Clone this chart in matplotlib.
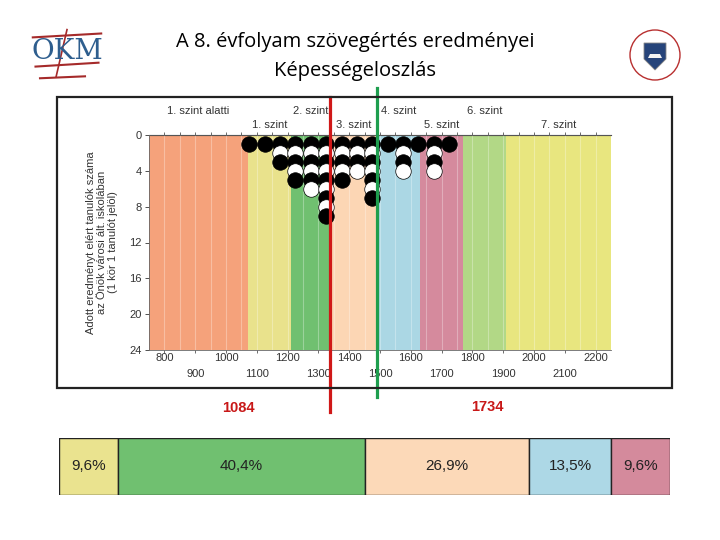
import numpy as np
import matplotlib
matplotlib.use("Agg")
import matplotlib.pyplot as plt
from matplotlib.patches import Rectangle, Circle, Polygon
from matplotlib.lines import Line2D

# Képességszintek (sávok) határai és színei
band_edges = [750, 1071, 1211, 1340, 1488, 1630, 1771, 1910, 2250]
band_colors = ["#F5A27B", "#E9E28C", "#70C070", "#FCD6B4",
               "#ABD7E4", "#D58A9D", "#B2D886", "#E8E67F"]
band_names = ["1. szint alatti", "1. szint", "2. szint", "3. szint",
              "4. szint", "5. szint", "6. szint", "7. szint"]

# Tanulók pontszám-oszlopai (50 pontos sávok közepe) és darabszám
dot_x = [1075, 1125, 1175, 1225, 1275, 1325, 1375, 1425, 1475,
         1525, 1575, 1625, 1675, 1725]
dot_n = [1, 1, 3, 5, 6, 9, 5, 4, 7, 1, 4, 1, 4, 1]

# függőleges jelölővonalak
red_x = 1338
green_x = 1490
min_score = "1084"
max_score = "1734"

# alsó sáv: megoszlás
share_vals = [9.6, 40.4, 26.9, 13.5, 9.6]
share_labels = ["9,6%", "40,4%", "26,9%", "13,5%", "9,6%"]
share_colors = ["#EAE38F", "#70C070", "#FCD9B8", "#ADD8E6", "#D48A9C"]

W, H = 720, 540
plt.rcParams["font.family"] = ["Liberation Sans", "DejaVu Sans"]
fig = plt.figure(figsize=(W / 100, H / 100), dpi=100)


def fx(px):
    return px / W


def fy(py):
    return 1 - py / H


# cím
fig.text(fx(355), fy(42), "A 8. évfolyam szövegértés eredményei",
         ha="center", va="center", fontsize=14.5, family="Open Sans")
fig.text(fx(355), fy(71), "Képességeloszlás",
         ha="center", va="center", fontsize=14.5, family="Open Sans")

# keret a diagram körül
fig.patches.append(Rectangle((fx(57), fy(388)), fx(672) - fx(57), fy(97) - fy(388),
                             transform=fig.transFigure, fill=False,
                             edgecolor="#222222", linewidth=1.6))

# fő diagram
ax = fig.add_axes([fx(149), fy(350), fx(611) - fx(149), fy(135) - fy(350)])
for i, c in enumerate(band_colors):
    ax.axvspan(band_edges[i], band_edges[i + 1], color=c, linewidth=0, zorder=0)
for g in range(800, 2250, 50):
    ax.axvline(g, color="white", alpha=0.3, linewidth=0.8, zorder=1)

ax.set_xlim(band_edges[0], band_edges[-1])
ax.set_ylim(24, 0)
ax.set_yticks(range(0, 25, 4))
ax.tick_params(axis="y", labelsize=8, length=3, width=0.6, colors="#333333", pad=2)
ax.set_xticks(range(800, 2201, 100))
ax.set_xticklabels([])
ax.tick_params(axis="x", length=2, width=0.6, colors="#555555")
ax.spines["right"].set_visible(False)
for s in ["left", "bottom", "top"]:
    ax.spines[s].set_color("#666666")
    ax.spines[s].set_linewidth(0.6)

sec = ax.secondary_xaxis("top")
sec.set_xticks(range(800, 2250, 50))
sec.set_xticklabels([])
sec.tick_params(length=2, width=0.6, colors="#555555")

# x tengely feliratai két sorban
tx = ax.get_xaxis_transform()
for i, v in enumerate(range(800, 2201, 100)):
    yy = -0.012 if i % 2 == 0 else -0.087
    ax.text(v, yy, str(v), transform=tx, ha="center", va="top",
            fontsize=8, color="#333333")

# sávnevek két sorban
for i, name in enumerate(band_names):
    cx = (band_edges[i] + band_edges[i + 1]) / 2
    yy = 1.088 if i % 2 == 0 else 1.023
    ax.text(cx, yy, name, transform=tx, ha="center", va="bottom",
            fontsize=8, color="#333333")

ax.set_ylabel("Adott eredményt elért tanulók száma\naz Önök városi ált. iskolában\n(1 kör 1 tanulót jelöl)",
              fontsize=8, color="#333333", labelpad=8, linespacing=1.15)

# pontok
for x, n in zip(dot_x, dot_n):
    for k in range(1, n + 1):
        col = "black" if k % 2 == 1 else "white"
        ax.scatter([x], [k], s=125, color=col, edgecolors="black",
                   linewidths=0.5, zorder=3 + k, clip_on=False)

# jelölővonalak
ax.axvline(red_x, ymin=-0.288, ymax=1.177, color="#D01818", linewidth=2.3,
           clip_on=False, zorder=20)
ax.axvline(green_x, ymin=-0.22, ymax=1.22, color="#1E9E4E", linewidth=2.3,
           clip_on=False, zorder=20)

fig.text(fx(238), fy(408), min_score, ha="center", va="center",
         fontsize=10.5, fontweight="bold", color="#C81818")
fig.text(fx(487), fy(407), max_score, ha="center", va="center",
         fontsize=10.5, fontweight="bold", color="#C81818")

# alsó megoszlás sáv
bx = fig.add_axes([fx(59), fy(495), fx(670) - fx(59), fy(438) - fy(495)])
left = 0
for v, lab, c in zip(share_vals, share_labels, share_colors):
    bx.barh(0, v, left=left, height=1, color=c, edgecolor="#222222", linewidth=1)
    bx.text(left + v / 2, 0, lab, ha="center", va="center", fontsize=11, color="#222222")
    left += v
bx.set_xlim(0, sum(share_vals))
bx.set_ylim(-0.5, 0.5)
bx.axis("off")

# OKM logó (egyszerűsítve)
lg = fig.add_axes([fx(22), fy(88), fx(90), fy(15) - fy(88)])
lg.set_xlim(0, 100)
lg.set_ylim(0, 75)
lg.axis("off")
lg.text(50, 37, "OKM", ha="center", va="center", fontsize=20,
        family="DejaVu Serif", color="#2E5E8E")
lg.add_line(Line2D([12, 88], [52, 56], color="#A52A2A", linewidth=1.5))
lg.add_line(Line2D([15, 85], [22, 26], color="#A52A2A", linewidth=1.5))
lg.add_line(Line2D([20, 70], [10, 12], color="#A52A2A", linewidth=1.5))
lg.add_line(Line2D([50, 38], [60, 12], color="#A52A2A", linewidth=1.2))

# jobb oldali címer (egyszerűsítve)
cr = fig.add_axes([fx(625), fy(85), fx(60), fy(25) - fy(85)])
cr.set_xlim(0, 60)
cr.set_ylim(0, 60)
cr.set_aspect("equal")
cr.axis("off")
cr.add_patch(Circle((30, 30), 25, facecolor="white", edgecolor="#B83030", linewidth=1))
cr.add_patch(Polygon([[19, 42], [41, 42], [41, 26], [30, 15], [19, 26]],
                     closed=True, facecolor="#26447A", edgecolor="#888888", linewidth=0.6))
cr.add_patch(Polygon([[23, 27], [37, 27], [35, 31], [25, 31]],
                     closed=True, facecolor="#F4F4F4", edgecolor="none"))

fig.savefig("out.png", dpi=100)
